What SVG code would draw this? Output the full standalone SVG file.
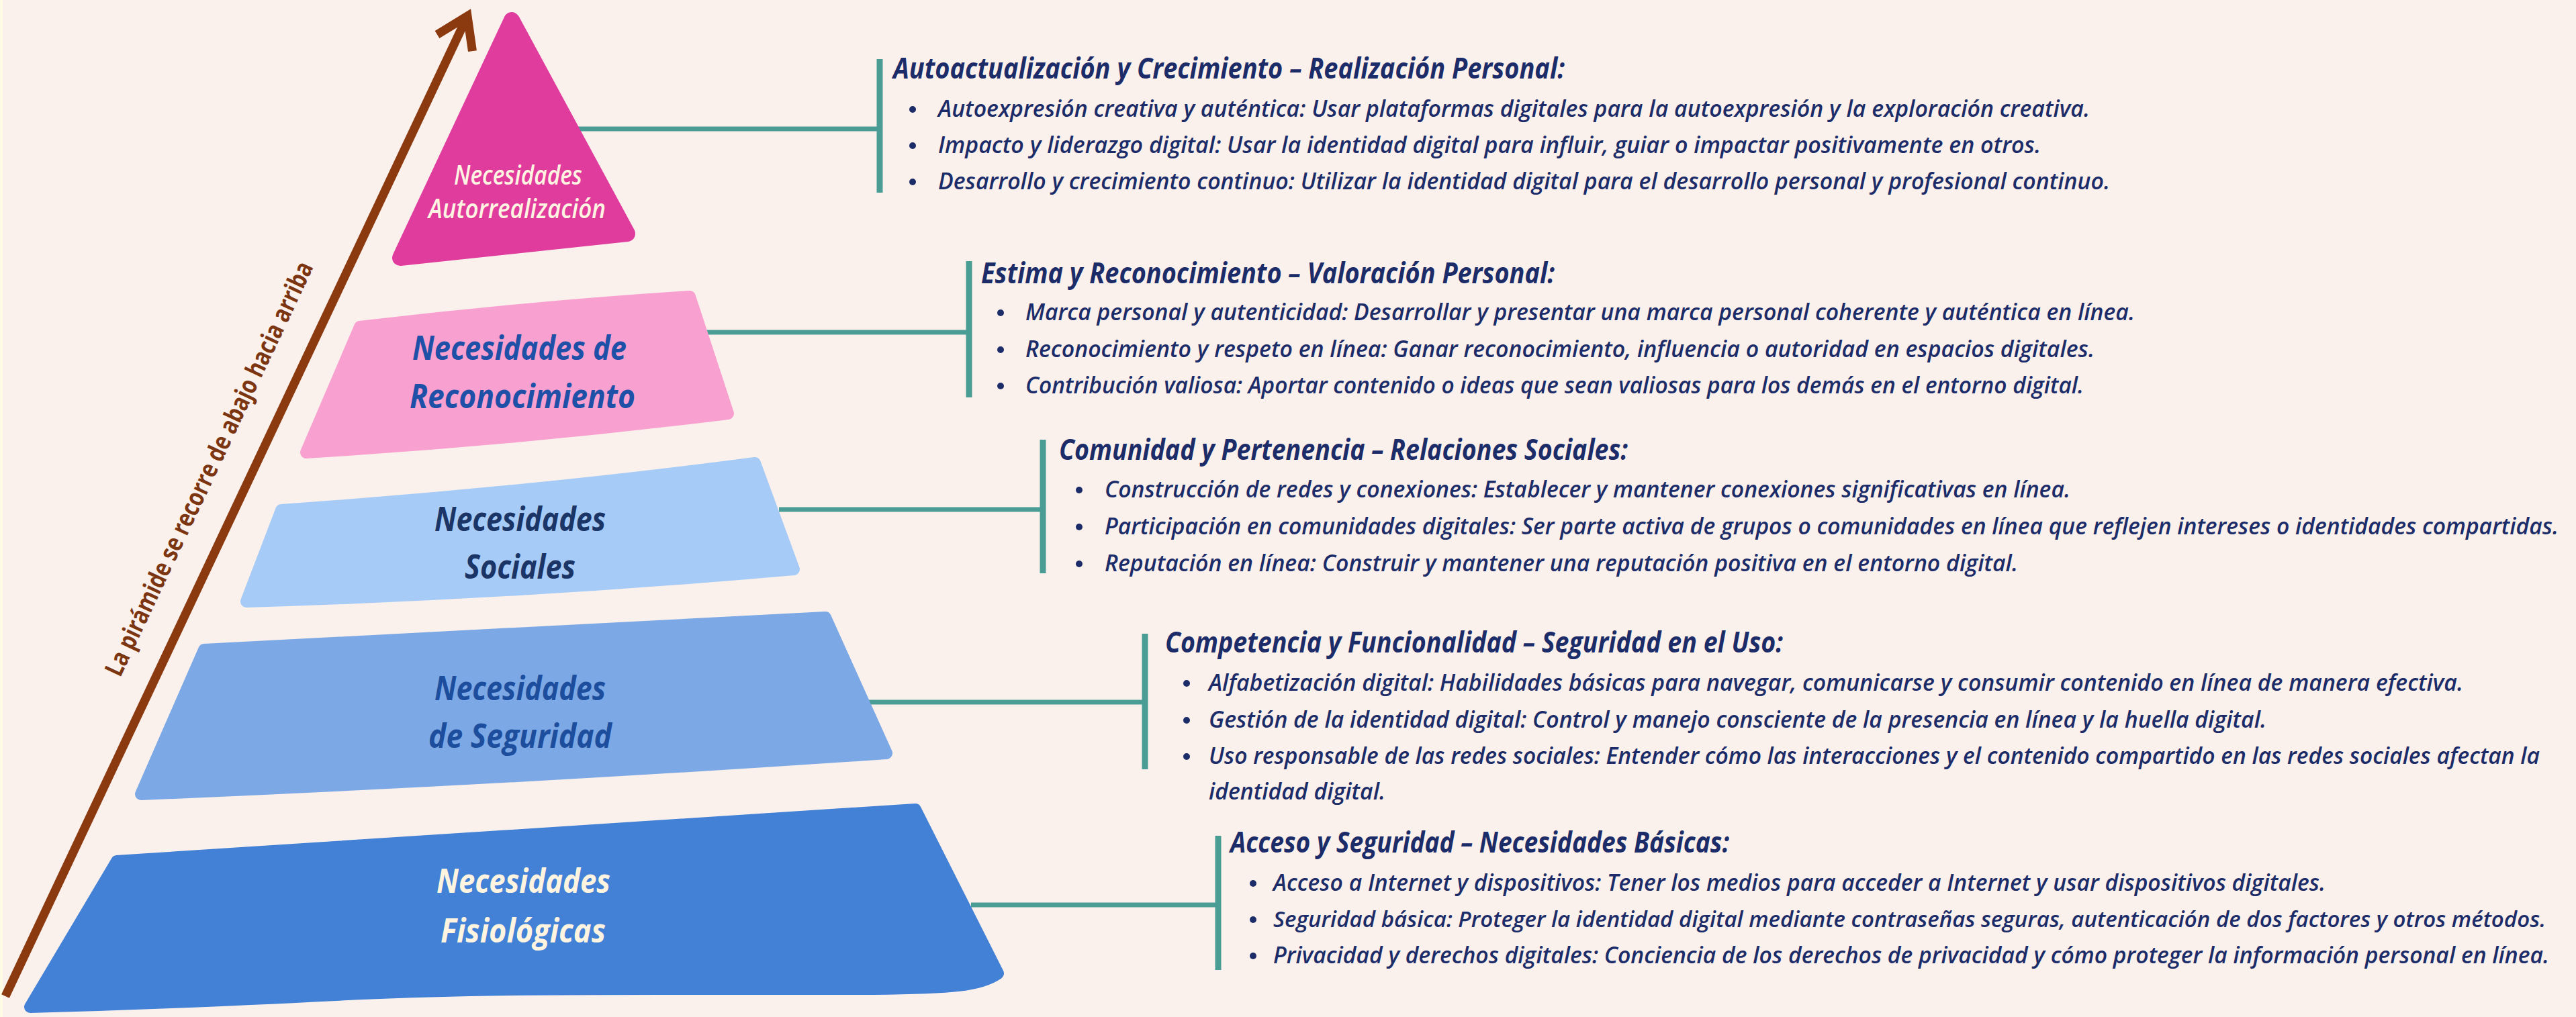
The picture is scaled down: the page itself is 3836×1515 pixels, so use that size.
<svg xmlns="http://www.w3.org/2000/svg" width="3836" height="1515" viewBox="0 0 3836 1515">
<defs>
<style>
.h{font-family:"Open Sans","Liberation Sans",sans-serif;font-weight:700;font-style:italic;font-size:43px;fill:#1B2C68}
.b{font-family:"Open Sans","Liberation Sans",sans-serif;font-weight:600;font-style:italic;font-size:34px;fill:#1B2C68}
.dot{fill:#1B2C68}
.lbl{font-family:"Open Sans","Liberation Sans",sans-serif;font-weight:700;font-style:italic;font-size:50px}
.tl{font-family:"Open Sans","Liberation Sans",sans-serif;font-weight:600;font-style:italic;font-size:39px;fill:#FFF4E2}
.con{stroke:#4A9D95;stroke-width:7;fill:none}
.brk{stroke:#4A9D95;stroke-width:9;fill:none}
.shape{stroke-linejoin:round;stroke-width:18}
.side{font-family:"Open Sans","Liberation Sans",sans-serif;font-weight:700;font-size:38px;fill:#7B3511}
</style>
<marker id="chev" markerUnits="userSpaceOnUse" viewBox="-70 -50 90 100" refX="0" refY="0" markerWidth="90" markerHeight="100" orient="auto" overflow="visible">
<path d="M-44,-29 L0,0 L-44,29" fill="none" stroke="#8B3A10" stroke-width="13" stroke-linejoin="miter"/>
</marker>
</defs>
<rect width="3836" height="1515" fill="#FBF1EC"/>
<rect width="4" height="1515" fill="#FFFCE6"/>

<g id="arrow">
<path d="M8,1484 L696,24" stroke="#8B3A10" stroke-width="13" fill="none" marker-end="url(#chev)"/>
<text class="side" transform="translate(179,1010) rotate(-64.8)" x="0" y="0" textLength="677" lengthAdjust="spacingAndGlyphs">La pirámide se recorre de abajo hacia arriba</text>
</g>

<g id="connectors">
<line class="con" x1="858" y1="192" x2="1310" y2="192"/>
<line class="brk" x1="1310" y1="88" x2="1310" y2="287"/>
<line class="con" x1="1050" y1="495" x2="1443" y2="495"/>
<line class="brk" x1="1443" y1="389" x2="1443" y2="592"/>
<line class="con" x1="1160" y1="759" x2="1553" y2="759"/>
<line class="brk" x1="1553" y1="655" x2="1553" y2="854"/>
<line class="con" x1="1294" y1="1046" x2="1705" y2="1046"/>
<line class="brk" x1="1705" y1="944" x2="1705" y2="1146"/>
<line class="con" x1="1446" y1="1348" x2="1814" y2="1348"/>
<line class="brk" x1="1814" y1="1245" x2="1814" y2="1445"/>
</g>

<g id="layer-autorrealizacion">
<path class="shape" d="M762,30 L934,348 L596,384 Z" fill="#E03C9E" stroke="#E03C9E" style="stroke-width:24"/>
<text class="tl" x="676" y="275" textLength="191" lengthAdjust="spacingAndGlyphs">Necesidades</text>
<text class="tl" x="638" y="325" textLength="264" lengthAdjust="spacingAndGlyphs">Autorrealización</text>
</g>

<g id="layer-reconocimiento">
<path class="shape" d="M536,487 Q780,458 1027,442 L1084,616 Q770,655 456,674 Z" fill="#F8A0CF" stroke="#F8A0CF"/>
<text class="lbl" x="614" y="536" fill="#1E50A8" textLength="319" lengthAdjust="spacingAndGlyphs">Necesidades de</text>
<text class="lbl" x="610" y="608" fill="#1E50A8" textLength="336" lengthAdjust="spacingAndGlyphs">Reconocimiento</text>
</g>

<g id="layer-sociales">
<path class="shape" d="M419,760 Q780,735 1124,690 L1182,848 Q774,884 367,896 Z" fill="#A6CBF6" stroke="#A6CBF6"/>
<text class="lbl" x="647" y="791" fill="#1A3566" textLength="255" lengthAdjust="spacingAndGlyphs">Necesidades</text>
<text class="lbl" x="692" y="862" fill="#1A3566" textLength="165" lengthAdjust="spacingAndGlyphs">Sociales</text>
</g>

<g id="layer-seguridad">
<path class="shape" d="M304,968 Q766,946 1229,920 L1320,1122 Q765,1160 210,1183 Z" fill="#7CA9E5" stroke="#7CA9E5"/>
<text class="lbl" x="647" y="1043" fill="#1D4E9E" textLength="255" lengthAdjust="spacingAndGlyphs">Necesidades</text>
<text class="lbl" x="638" y="1114" fill="#1D4E9E" textLength="273" lengthAdjust="spacingAndGlyphs">de Seguridad</text>
</g>

<g id="layer-fisiologicas">
<path class="shape" d="M174,1283 L1363,1206 L1486,1450 C1460,1468 1420,1472 1300,1473 L982,1473 C800,1473 650,1474 500,1482 C380,1488 200,1496 45,1500 Z" fill="#4281D6" stroke="#4281D6"/>
<text class="lbl" x="650" y="1330" fill="#FFF4E0" textLength="259" lengthAdjust="spacingAndGlyphs">Necesidades</text>
<text class="lbl" x="656" y="1404" fill="#FFF4E0" textLength="246" lengthAdjust="spacingAndGlyphs">Fisiológicas</text>
</g>

<g id="info-autorrealizacion">
<text class="h" x="1330" y="117" textLength="1000" lengthAdjust="spacingAndGlyphs">Autoactualización y Crecimiento – Realización Personal:</text>
<circle class="dot" cx="1359" cy="163" r="5"/>
<text class="b" x="1397" y="174" textLength="1715" lengthAdjust="spacingAndGlyphs">Autoexpresión creativa y auténtica: Usar plataformas digitales para la autoexpresión y la exploración creativa.</text>
<circle class="dot" cx="1359" cy="217" r="5"/>
<text class="b" x="1397" y="228" textLength="1642" lengthAdjust="spacingAndGlyphs">Impacto y liderazgo digital: Usar la identidad digital para influir, guiar o impactar positivamente en otros.</text>
<circle class="dot" cx="1359" cy="271" r="5"/>
<text class="b" x="1397" y="282" textLength="1745" lengthAdjust="spacingAndGlyphs">Desarrollo y crecimiento continuo: Utilizar la identidad digital para el desarrollo personal y profesional continuo.</text>
</g>

<g id="info-reconocimiento">
<text class="h" x="1461" y="422" textLength="854" lengthAdjust="spacingAndGlyphs">Estima y Reconocimiento – Valoración Personal:</text>
<circle class="dot" cx="1490" cy="466" r="5"/>
<text class="b" x="1527" y="477" textLength="1652" lengthAdjust="spacingAndGlyphs">Marca personal y autenticidad: Desarrollar y presentar una marca personal coherente y auténtica en línea.</text>
<circle class="dot" cx="1490" cy="521" r="5"/>
<text class="b" x="1527" y="532" textLength="1592" lengthAdjust="spacingAndGlyphs">Reconocimiento y respeto en línea: Ganar reconocimiento, influencia o autoridad en espacios digitales.</text>
<circle class="dot" cx="1490" cy="575" r="5"/>
<text class="b" x="1527" y="586" textLength="1576" lengthAdjust="spacingAndGlyphs">Contribución valiosa: Aportar contenido o ideas que sean valiosas para los demás en el entorno digital.</text>
</g>

<g id="info-sociales">
<text class="h" x="1577" y="685" textLength="847" lengthAdjust="spacingAndGlyphs">Comunidad y Pertenencia – Relaciones Sociales:</text>
<circle class="dot" cx="1607" cy="730" r="5"/>
<text class="b" x="1645" y="741" textLength="1438" lengthAdjust="spacingAndGlyphs">Construcción de redes y conexiones: Establecer y mantener conexiones significativas en línea.</text>
<circle class="dot" cx="1607" cy="785" r="5"/>
<text class="b" x="1645" y="796" textLength="2165" lengthAdjust="spacingAndGlyphs">Participación en comunidades digitales: Ser parte activa de grupos o comunidades en línea que reflejen intereses o identidades compartidas.</text>
<circle class="dot" cx="1607" cy="840" r="5"/>
<text class="b" x="1645" y="851" textLength="1360" lengthAdjust="spacingAndGlyphs">Reputación en línea: Construir y mantener una reputación positiva en el entorno digital.</text>
</g>

<g id="info-seguridad">
<text class="h" x="1735" y="972" textLength="920" lengthAdjust="spacingAndGlyphs">Competencia y Funcionalidad – Seguridad en el Uso:</text>
<circle class="dot" cx="1767" cy="1018" r="5"/>
<text class="b" x="1800" y="1029" textLength="1868" lengthAdjust="spacingAndGlyphs">Alfabetización digital: Habilidades básicas para navegar, comunicarse y consumir contenido en línea de manera efectiva.</text>
<circle class="dot" cx="1767" cy="1073" r="5"/>
<text class="b" x="1800" y="1084" textLength="1575" lengthAdjust="spacingAndGlyphs">Gestión de la identidad digital: Control y manejo consciente de la presencia en línea y la huella digital.</text>
<circle class="dot" cx="1767" cy="1127" r="5"/>
<text class="b" x="1800" y="1138" textLength="1982" lengthAdjust="spacingAndGlyphs">Uso responsable de las redes sociales: Entender cómo las interacciones y el contenido compartido en las redes sociales afectan la</text>
<text class="b" x="1800" y="1191" textLength="263" lengthAdjust="spacingAndGlyphs">identidad digital.</text>
</g>

<g id="info-fisiologicas">
<text class="h" x="1832" y="1270" textLength="743" lengthAdjust="spacingAndGlyphs">Acceso y Seguridad – Necesidades Básicas:</text>
<circle class="dot" cx="1866" cy="1316" r="5"/>
<text class="b" x="1896" y="1327" textLength="1567" lengthAdjust="spacingAndGlyphs">Acceso a Internet y dispositivos: Tener los medios para acceder a Internet y usar dispositivos digitales.</text>
<circle class="dot" cx="1866" cy="1370" r="5"/>
<text class="b" x="1896" y="1381" style="font-size:32px" textLength="1895" lengthAdjust="spacingAndGlyphs">Seguridad básica: Proteger la identidad digital mediante contraseñas seguras, autenticación de dos factores y otros métodos.</text>
<circle class="dot" cx="1866" cy="1424" r="5"/>
<text class="b" x="1896" y="1435" textLength="1900" lengthAdjust="spacingAndGlyphs">Privacidad y derechos digitales: Conciencia de los derechos de privacidad y cómo proteger la información personal en línea.</text>
</g>
</svg>
